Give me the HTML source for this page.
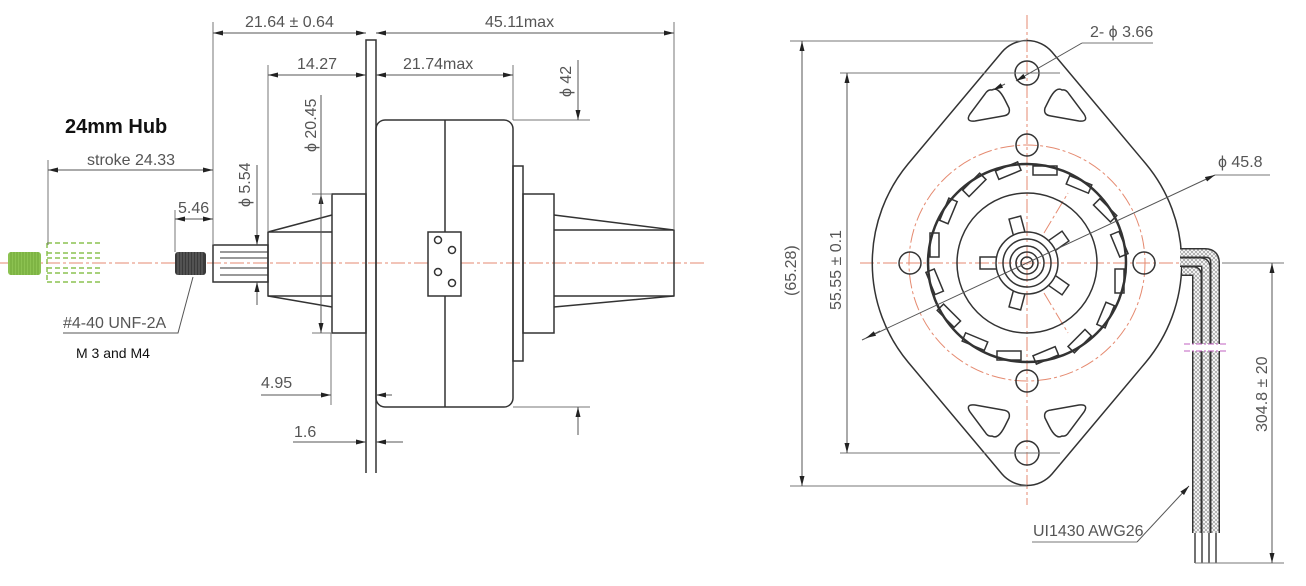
<!DOCTYPE html>
<html><head><meta charset="utf-8"><style>
html,body{margin:0;padding:0;background:#fff;}
svg{display:block;}
text{font-family:"Liberation Sans",sans-serif;fill:#555;font-size:16px;}
</style></head><body>
<svg width="1306" height="586" viewBox="0 0 1306 586" xmlns="http://www.w3.org/2000/svg">
<defs>
<marker id="a" viewBox="0 0 10 6" refX="10" refY="3" markerWidth="10" markerHeight="6" orient="auto-start-reverse" markerUnits="userSpaceOnUse">
<path d="M0,0.5 L10,3 L0,5.5 Z" fill="#222"/></marker>
<pattern id="h" width="4" height="4" patternUnits="userSpaceOnUse">
<rect width="4" height="4" fill="#fff"/><path d="M0,0 L4,4 M4,0 L0,4" stroke="#999" stroke-width="0.7"/></pattern>
</defs>

<!-- ===== LEFT VIEW ===== -->
<g stroke="#e58a70" stroke-width="1" stroke-dasharray="14,3,3,3" fill="none">
<line x1="0" y1="263" x2="705" y2="263"/>
</g>
<g fill="none" stroke="#333" stroke-width="1.5">
<path d="M366,473 V40 H376 V473"/>
<rect x="376" y="120" width="137" height="287" rx="9"/>
<line x1="445" y1="120" x2="445" y2="232"/><line x1="445" y1="296" x2="445" y2="407"/>
<rect x="428" y="232" width="33" height="64" fill="#fff"/>
<circle cx="438" cy="240" r="3.5"/><circle cx="452" cy="250" r="3.5"/>
<circle cx="438" cy="272" r="3.5"/><circle cx="452" cy="283" r="3.5"/>
<rect x="513" y="166" width="10" height="195"/>
<rect x="523" y="194" width="31" height="139"/>
<path d="M554,215 L674,230 V296 L554,307"/>
<line x1="554" y1="230" x2="674" y2="230"/><line x1="554" y1="296" x2="674" y2="296"/>
<rect x="332" y="194" width="34" height="139"/>
<path d="M332,215 L268,232 V296 L332,307"/>
<line x1="268" y1="232" x2="332" y2="232"/><line x1="268" y1="296" x2="332" y2="296"/>
<rect x="213" y="245" width="55" height="37"/>
<g stroke-width="1"><line x1="220" y1="252" x2="268" y2="252"/><line x1="220" y1="258" x2="268" y2="258"/>
<line x1="220" y1="268" x2="268" y2="268"/><line x1="220" y1="275" x2="268" y2="275"/></g>
</g>
<rect x="175" y="252" width="31" height="23" rx="3" fill="#3a3a3a"/>
<g stroke="#777" stroke-width="0.8">
<path d="M178,252V275M181,252V275M184,252V275M187,252V275M190,252V275M193,252V275M196,252V275M199,252V275M202,252V275"/></g>
<rect x="8" y="252" width="33" height="23" rx="3" fill="#8cc251"/>
<g stroke="#6aa030" stroke-width="0.8">
<path d="M11,252V275M14,252V275M17,252V275M20,252V275M23,252V275M26,252V275M29,252V275M32,252V275M35,252V275M38,252V275"/></g>
<g stroke="#8cc251" stroke-width="1.5" stroke-dasharray="5,3" fill="none">
<path d="M47,243V282"/>
<path d="M47,243H103M47,253H103M47,258H103M47,268H103M47,273H103M47,282H103"/>
</g>

<g stroke="#777" stroke-width="1" fill="none">
<line x1="213" y1="22" x2="213" y2="245"/>
<line x1="674" y1="22" x2="674" y2="230"/>
<line x1="268" y1="65" x2="268" y2="232"/>
<line x1="513" y1="65" x2="513" y2="120"/>
<line x1="513" y1="120" x2="590" y2="120"/><line x1="513" y1="407" x2="590" y2="407"/>
<line x1="312" y1="194" x2="332" y2="194"/><line x1="312" y1="333" x2="332" y2="333"/>
<line x1="48" y1="160" x2="48" y2="245"/>
<line x1="175" y1="210" x2="175" y2="252"/>
<line x1="331" y1="333" x2="331" y2="405"/>
</g>
<g stroke="#555" stroke-width="1" fill="none">
<line x1="213" y1="33" x2="366" y2="33" marker-start="url(#a)" marker-end="url(#a)"/>
<line x1="376" y1="33" x2="674" y2="33" marker-start="url(#a)" marker-end="url(#a)"/>
<line x1="268" y1="75" x2="366" y2="75" marker-start="url(#a)" marker-end="url(#a)"/>
<line x1="376" y1="75" x2="513" y2="75" marker-start="url(#a)" marker-end="url(#a)"/>
<line x1="578" y1="60" x2="578" y2="120" marker-end="url(#a)"/>
<line x1="578" y1="435" x2="578" y2="407" marker-end="url(#a)"/>
<line x1="321" y1="95" x2="321" y2="194" />
<line x1="321" y1="333" x2="321" y2="194" marker-end="url(#a)"/>
<line x1="321" y1="194" x2="321" y2="333" marker-end="url(#a)"/>
<line x1="257" y1="165" x2="257" y2="245" marker-end="url(#a)"/>
<line x1="257" y1="305" x2="257" y2="282" marker-end="url(#a)"/>
<line x1="48" y1="170" x2="213" y2="170" marker-start="url(#a)" marker-end="url(#a)"/>
<line x1="175" y1="219" x2="213" y2="219" marker-start="url(#a)" marker-end="url(#a)"/>
<line x1="261" y1="395" x2="331" y2="395" marker-end="url(#a)"/>
<line x1="392" y1="395" x2="376" y2="395" marker-end="url(#a)"/>
<line x1="293" y1="442" x2="366" y2="442" marker-end="url(#a)"/>
<line x1="403" y1="442" x2="376" y2="442" marker-end="url(#a)"/>
<polyline points="193,277 178,333 63,333"/>
</g>
<text x="245" y="27">21.64 ± 0.64</text>
<text x="485" y="27">45.11max</text>
<text x="297" y="69">14.27</text>
<text x="403" y="69">21.74max</text>
<text x="87" y="165">stroke 24.33</text>
<text x="178" y="213">5.46</text>
<text x="261" y="388">4.95</text>
<text x="294" y="437">1.6</text>
<text x="63" y="328">#4-40 UNF-2A</text>
<text x="0" y="0" transform="translate(571,97) rotate(-90)">ϕ 42</text>
<text x="0" y="0" transform="translate(316,152) rotate(-90)">ϕ 20.45</text>
<text x="0" y="0" transform="translate(250,207) rotate(-90)">ϕ 5.54</text>
<text x="65" y="133" style="fill:#111;font-size:20px;font-weight:bold">24mm Hub</text>
<text x="76" y="358" style="fill:#111;font-size:14px">M 3 and M4</text>

<!-- ===== RIGHT VIEW ===== -->
<g stroke="#e58a70" stroke-width="1" stroke-dasharray="14,3,3,3" fill="none">
<line x1="1027" y1="15" x2="1027" y2="505"/>
<line x1="860" y1="263" x2="1190" y2="263"/>
<circle cx="1027" cy="263" r="118"/>
<line x1="1044" y1="233" x2="1068" y2="193"/>
<line x1="1044" y1="293" x2="1068" y2="333"/>
</g>
<g fill="none" stroke="#333" stroke-width="1.5">
<path d="M1002,52 A33,33 0 0 1 1052,52 L1146,164 A155,155 0 0 1 1146,362 L1052,474 A33,33 0 0 1 1002,474 L908,362 A155,155 0 0 1 908,164 Z"/>
<circle cx="1027" cy="73" r="12"/><circle cx="1027" cy="453" r="12"/>
<circle cx="1027" cy="145" r="11"/><circle cx="1027" cy="381" r="11"/>
<circle cx="910" cy="263" r="11"/><circle cx="1144" cy="263" r="11"/>
<path d="M992,90 Q998,86 1005,100 L1009,108 Q1011,115 1003,116 L975,121 Q965,122 970,114 L985,94 Q988,89 992,90 Z"/>
<path d="M1062,90 Q1056,86 1049,100 L1045,108 Q1043,115 1051,116 L1079,121 Q1089,122 1084,114 L1069,94 Q1066,89 1062,90 Z"/>
<path d="M992,436 Q998,440 1005,426 L1009,418 Q1011,411 1003,410 L975,405 Q965,404 970,412 L985,432 Q988,437 992,436 Z"/>
<path d="M1062,436 Q1056,440 1049,426 L1045,418 Q1043,411 1051,410 L1079,405 Q1089,404 1084,412 L1069,432 Q1066,437 1062,436 Z"/>
<circle cx="1027" cy="263" r="99" stroke-width="2.5"/>
<circle cx="1027" cy="263" r="70"/>
<circle cx="1027" cy="263" r="31"/>
<circle cx="1027" cy="263" r="24"/>
<circle cx="1027" cy="263" r="17"/>
<circle cx="1027" cy="263" r="11"/>
<circle cx="1027" cy="263" r="6"/>
<g id="tab"><path d="M996,257 H980 V269 H996"/></g>
<use href="#tab" transform="rotate(75 1027 263)"/>
<use href="#tab" transform="rotate(145 1027 263)"/>
<use href="#tab" transform="rotate(-75 1027 263)"/>
<use href="#tab" transform="rotate(-145 1027 263)"/>
<g id="n"><rect x="1033" y="166" width="24" height="9"/></g>
<use href="#n" transform="rotate(22.5 1027 263)"/><use href="#n" transform="rotate(45 1027 263)"/>
<use href="#n" transform="rotate(67.5 1027 263)"/><use href="#n" transform="rotate(90 1027 263)"/>
<use href="#n" transform="rotate(112.5 1027 263)"/><use href="#n" transform="rotate(135 1027 263)"/>
<use href="#n" transform="rotate(157.5 1027 263)"/><use href="#n" transform="rotate(180 1027 263)"/>
<use href="#n" transform="rotate(202.5 1027 263)"/><use href="#n" transform="rotate(225 1027 263)"/>
<use href="#n" transform="rotate(247.5 1027 263)"/><use href="#n" transform="rotate(270 1027 263)"/>
<use href="#n" transform="rotate(292.5 1027 263)"/><use href="#n" transform="rotate(315 1027 263)"/>
<use href="#n" transform="rotate(337.5 1027 263)"/>
</g>
<g fill="none" stroke-linejoin="round">
<path d="M1180,253 H1205 Q1215,253 1215,263 V533" stroke="#333" stroke-width="10"/>
<path d="M1180,253 H1205 Q1215,253 1215,263 V533" stroke="url(#h)" stroke-width="7"/>
<path d="M1180,262 H1200 Q1206,262 1206,268 V533" stroke="#333" stroke-width="10"/>
<path d="M1180,262 H1200 Q1206,262 1206,268 V533" stroke="url(#h)" stroke-width="7"/>
<path d="M1182,271 H1193 Q1197,271 1197,275 V533" stroke="#333" stroke-width="10"/>
<path d="M1182,271 H1193 Q1197,271 1197,275 V533" stroke="url(#h)" stroke-width="7"/>
</g>
<g stroke="#444" stroke-width="1.5"><path d="M1195,533V563M1202,533V563M1209,533V563M1216,533V563"/></g>
<rect x="1184" y="344" width="40" height="7" fill="#fff"/>
<g stroke="#c060c0" stroke-width="1" stroke-dasharray="6,2,2,2"><line x1="1184" y1="344" x2="1226" y2="344"/><line x1="1184" y1="351" x2="1226" y2="351"/></g>

<g stroke="#777" stroke-width="1" fill="none">
<line x1="790" y1="41" x2="1027" y2="41"/><line x1="790" y1="486" x2="1027" y2="486"/>
<line x1="840" y1="73" x2="1060" y2="73"/><line x1="840" y1="453" x2="1060" y2="453"/>
<line x1="1222" y1="263" x2="1284" y2="263"/><line x1="1195" y1="563" x2="1284" y2="563"/>
<polyline points="1082,43 1153,43"/>
<polyline points="1137,542 1032,542"/>
<polyline points="1215,175 1270,175"/>
</g>
<g stroke="#555" stroke-width="1" fill="none">
<line x1="802" y1="41" x2="802" y2="486" marker-start="url(#a)" marker-end="url(#a)"/>
<line x1="847" y1="73" x2="847" y2="453" marker-start="url(#a)" marker-end="url(#a)"/>
<line x1="1272" y1="263" x2="1272" y2="563" marker-start="url(#a)" marker-end="url(#a)"/>
<line x1="1082" y1="43" x2="1016" y2="81" marker-end="url(#a)"/>
<line x1="993" y1="90" x2="1005" y2="84" marker-start="url(#a)"/>
<line x1="1215" y1="175" x2="862" y2="340" marker-start="url(#a)"/>
<line x1="866" y1="338" x2="880" y2="331" marker-start="url(#a)"/>
<line x1="1137" y1="542" x2="1189" y2="486" marker-end="url(#a)"/>
</g>
<text x="1090" y="37">2- ϕ 3.66</text>
<text x="1218" y="167">ϕ 45.8</text>
<text x="1033" y="536">UI1430 AWG26</text>
<text x="0" y="0" transform="translate(796,296) rotate(-90)">(65.28)</text>
<text x="0" y="0" transform="translate(841,310) rotate(-90)">55.55 ± 0.1</text>
<text x="0" y="0" transform="translate(1267,432) rotate(-90)">304.8 ± 20</text>
</svg>
</body></html>
